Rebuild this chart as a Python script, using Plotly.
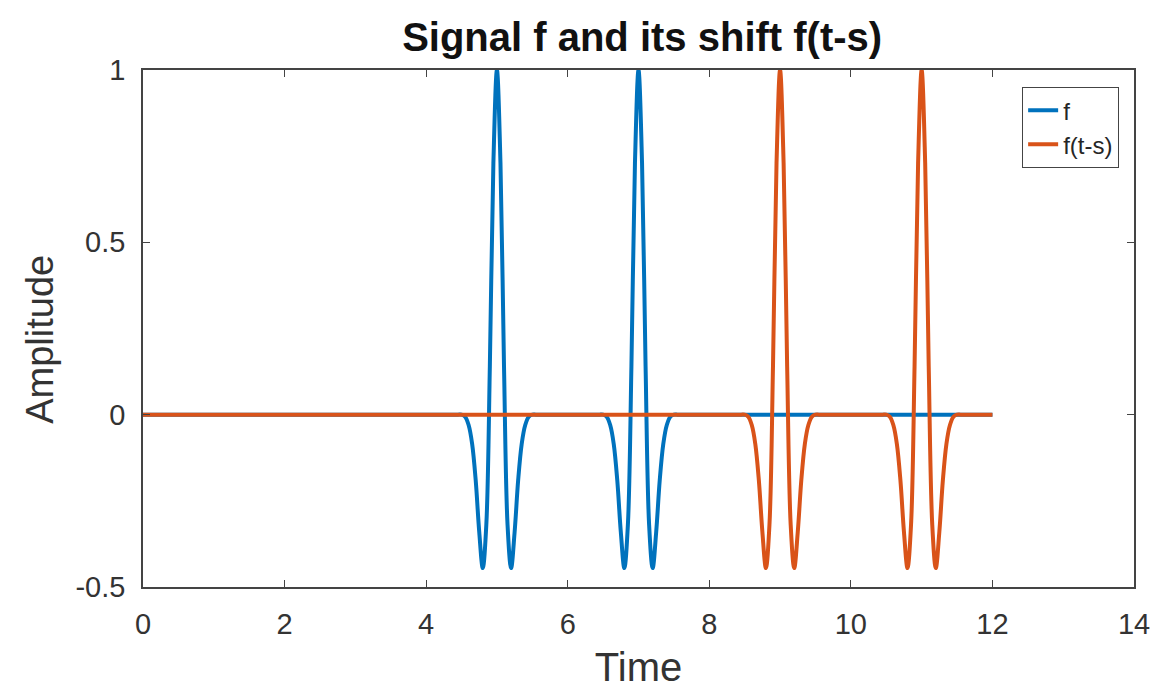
import plotly.graph_objects as go

# ---- data ----
t_start, t_end = 0.0, 12.0
f_centers = [5.0, 7.0]          # pulse centres of f
shift_s = 4.0                   # f(t-s) is f moved right by s
# half pulse profile: offset from centre -> amplitude (symmetric)
pulse_offsets = [0.0, 0.05, 0.10, 0.15, 0.20, 0.25, 0.30, 0.35, 0.40, 0.45, 0.50]
pulse_values = [1.0, 0.73, 0.14, -0.32, -0.445, -0.34, -0.19, -0.085, -0.03, -0.006, 0.0]

x_ticks = [0, 2, 4, 6, 8, 10, 12, 14]
y_ticks = [-0.5, 0, 0.5, 1]
y_tick_text = ["-0.5", "0", "0.5", "1"]


def build(centers):
    step = pulse_offsets[1] - pulse_offsets[0]
    n = int(round((t_end - t_start) / step))
    xs, ys = [], []
    for i in range(n + 1):
        t = t_start + i * step
        v = 0.0
        for c in centers:
            k = int(round(abs(t - c) / step))
            if k < len(pulse_offsets):
                v = pulse_values[k]
        xs.append(t)
        ys.append(v)
    return xs, ys


fx, fy = build(f_centers)
gx, gy = build([c + shift_s for c in f_centers])

BLUE = "#0072BD"
ORANGE = "#D95319"
AX = "#444444"
FONT = "Liberation Sans, Arial, Helvetica, sans-serif"

fig = go.Figure()
fig.add_trace(go.Scatter(x=fx, y=fy, mode="lines", name="f",
                         line=dict(color=BLUE, width=4, shape="spline")))
fig.add_trace(go.Scatter(x=gx, y=gy, mode="lines", name="f(t-s)",
                         line=dict(color=ORANGE, width=4, shape="spline")))

fig.update_layout(
    width=1162, height=694,
    margin=dict(l=143, r=22, t=70, b=105),
    paper_bgcolor="white", plot_bgcolor="white",
    font=dict(family=FONT, color="#262626"),
    title=dict(text="Signal f and its shift f(t-s)", x=0.5526, xanchor="center",
               y=0.947, yanchor="middle",
               font=dict(size=40, weight="bold", color="#111111", family=FONT)),
    showlegend=True,
    legend=dict(x=0.985, y=0.967, xanchor="right", yanchor="top",
                bgcolor="white", bordercolor=AX, borderwidth=1,
                font=dict(size=24, color="#262626", family=FONT)),
    annotations=[
        dict(text="Amplitude", xref="paper", yref="paper", x=-0.104, y=0.48,
             xanchor="center", yanchor="middle", textangle=-90, showarrow=False,
             font=dict(size=38, color="#333333", family=FONT)),
    ],
)

fig.update_xaxes(range=[0, 14], tickvals=x_ticks, ticktext=[str(v) for v in x_ticks],
                 showgrid=False, zeroline=False, showline=True, linecolor=AX, linewidth=1.5,
                 mirror="ticks", ticks="inside", ticklen=7, tickcolor=AX, tickwidth=1.2,
                 ticklabelstandoff=10,
                 tickfont=dict(size=29, color="#333333", family=FONT),
                 title=dict(text="Time", standoff=14,
                            font=dict(size=40, color="#333333", family=FONT)))
fig.update_yaxes(range=[-0.5, 1], tickvals=y_ticks, ticktext=y_tick_text,
                 showgrid=False, zeroline=False, showline=True, linecolor=AX, linewidth=1.5,
                 mirror="ticks", ticks="inside", ticklen=7, tickcolor=AX, tickwidth=1.2,
                 ticklabelstandoff=10,
                 tickfont=dict(size=29, color="#333333", family=FONT))

fig.write_html("out.html")
